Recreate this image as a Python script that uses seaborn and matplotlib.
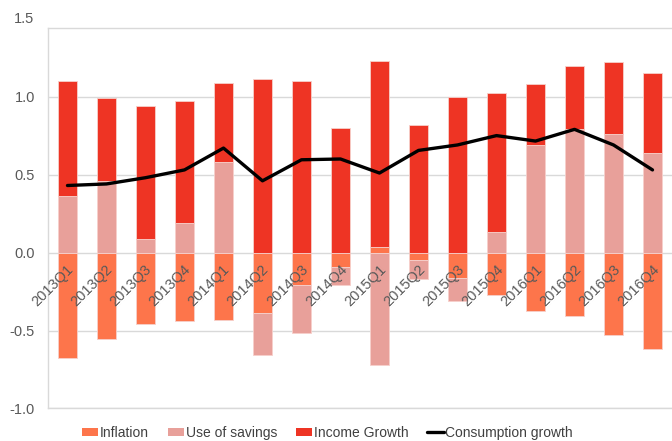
import numpy as np
import pandas as pd
import matplotlib
matplotlib.use("Agg")
import matplotlib.pyplot as plt
from matplotlib.patches import Patch
from matplotlib.lines import Line2D
import seaborn as sns

quarters = ["2013Q1", "2013Q2", "2013Q3", "2013Q4",
            "2014Q1", "2014Q2", "2014Q3", "2014Q4",
            "2015Q1", "2015Q2", "2015Q3", "2015Q4",
            "2016Q1", "2016Q2", "2016Q3", "2016Q4"]
inflation = [-0.675, -0.555, -0.46, -0.44, -0.43, -0.385, -0.205, -0.09,
             0.035, -0.05, -0.16, -0.27, -0.375, -0.41, -0.53, -0.62]
savings = [0.36, 0.46, 0.09, 0.19, 0.58, -0.27, -0.31, -0.115,
           -0.72, -0.12, -0.15, 0.13, 0.69, 0.795, 0.76, 0.64]
income = [0.74, 0.53, 0.85, 0.78, 0.51, 1.11, 1.10, 0.80,
          1.195, 0.82, 1.00, 0.89, 0.39, 0.40, 0.46, 0.51]
consumption = [0.43, 0.44, 0.48, 0.53, 0.67, 0.46, 0.595, 0.60,
               0.51, 0.655, 0.69, 0.75, 0.715, 0.79, 0.69, 0.53]

series = [("Inflation", inflation, "#fd754b"),
          ("Use of savings", savings, "#e8a09a"),
          ("Income Growth", income, "#ee3424")]

sns.set_style("white")
plt.rcParams["font.family"] = ["Liberation Sans", "DejaVu Sans"]
plt.rcParams["axes.unicode_minus"] = False

fig = plt.figure(figsize=(6.72, 4.41), dpi=100)
ax = fig.add_axes([0.0714, 0.0737, 0.9286, 0.8628])

# stack positives upward and negatives downward
pos_base = np.zeros(len(quarters))
neg_base = np.zeros(len(quarters))
for name, vals, col in series:
    vals = np.array(vals)
    bottom = np.where(vals >= 0, pos_base, neg_base)
    df = pd.DataFrame({"quarter": quarters, "value": vals})
    sns.barplot(data=df, x="quarter", y="value", order=quarters, color=col,
                bottom=bottom, width=0.5, saturation=1, ax=ax,
                edgecolor="#f7d0cb", linewidth=0.6, zorder=2)
    pos_base = pos_base + np.where(vals >= 0, vals, 0)
    neg_base = neg_base + np.where(vals < 0, vals, 0)

sns.lineplot(x=np.arange(len(quarters)), y=consumption, color="black",
             linewidth=2.4, ax=ax, zorder=3)

ax.set_xlim(-0.5, len(quarters) - 0.5)
ax.set_ylim(-1.0, 1.44)
ax.set_yticks([-1.0, -0.5, 0.0, 0.5, 1.0])
ax.set_yticklabels(["-1.0", "-0.5", "0.0", "0.5", "1.0"])
ax.text(-0.0215, 1.5, "1.5", transform=ax.get_yaxis_transform(),
        ha="right", va="center", fontsize=10.5, color="#595959", clip_on=False)
ax.tick_params(axis="y", length=0, pad=9.5, labelsize=10.5, labelcolor="#595959")
ax.set_xticks([])
ax.set_xlabel("")
ax.set_ylabel("")
ax.grid(axis="y", color="#d9d9d9", linewidth=1, zorder=0)
ax.set_axisbelow(True)
for side in ["left", "top", "bottom"]:
    ax.spines[side].set_color("#d9d9d9")
    ax.spines[side].set_linewidth(1)
ax.spines["right"].set_visible(False)

for i, q in enumerate(quarters):
    ax.text(i - 0.02, -0.065, q, rotation=45, rotation_mode="anchor",
            ha="right", va="top", fontsize=10.5, color="#595959", zorder=4)

handles = [Patch(facecolor=c, edgecolor="none") for _, _, c in series]
handles.append(Line2D([0], [0], color="black", linewidth=2.4))
labels = [n for n, _, _ in series] + ["Consumption growth"]
fig.legend(handles, labels, loc="lower center", bbox_to_anchor=(0.487, -0.025),
           ncol=4, frameon=False, fontsize=10, handlelength=1.2,
           handleheight=0.5, handletextpad=0.1, columnspacing=1.35,
           labelcolor="#404040")

fig.savefig("out.png", dpi=100)
